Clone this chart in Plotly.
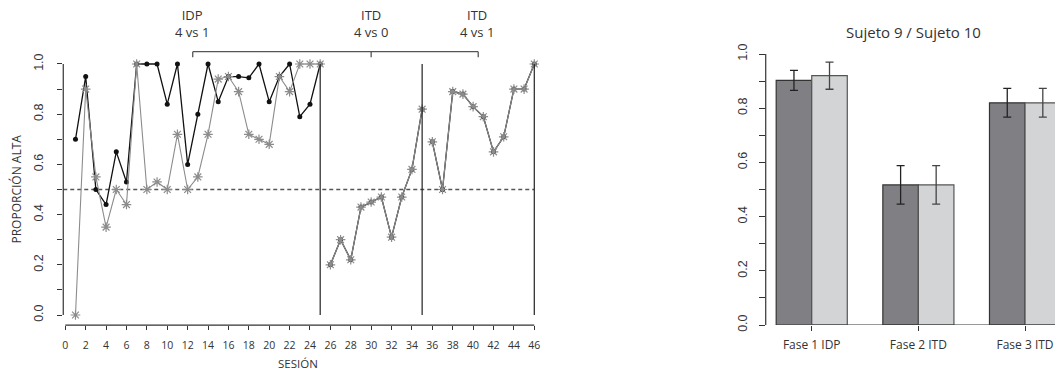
import plotly.graph_objects as go

# ---------------- data ----------------
sesiones = list(range(1, 47))
sujeto9 = [0.70, 0.95, 0.50, 0.44, 0.65, 0.53, 1.00, 1.00, 1.00, 0.84,
           1.00, 0.60, 0.80, 1.00, 0.85, 0.95, 0.95, 0.945, 1.00, 0.85,
           0.95, 1.00, 0.79, 0.84, 1.00,
           0.20, 0.30, 0.22, 0.43, 0.45, 0.47, 0.31, 0.47, 0.58, 0.82,
           0.69, 0.50, 0.89, 0.88, 0.83, 0.79, 0.65, 0.71, 0.90, 0.90, 1.00]
sujeto10 = [0.00, 0.90, 0.55, 0.35, 0.50, 0.44, 1.00, 0.50, 0.53, 0.50,
            0.72, 0.50, 0.55, 0.72, 0.94, 0.95, 0.89, 0.72, 0.70, 0.68,
            0.95, 0.89, 1.00, 1.00, 1.00,
            0.20, 0.30, 0.22, 0.43, 0.45, 0.47, 0.31, 0.47, 0.58, 0.82,
            0.69, 0.50, 0.89, 0.88, 0.83, 0.79, 0.65, 0.71, 0.90, 0.90, 1.00]
fin_fase = [25, 35, 46]
fase_labels = ["IDP<br>4 vs 1", "ITD<br>4 vs 0", "ITD<br>4 vs 1"]
fase_label_x = [12.4, 30, 40.4]
bracket = [12.5, 30, 40.5]

fases = ["Fase 1 IDP", "Fase 2 ITD", "Fase 3 ITD"]
media9 = [0.903, 0.517, 0.820]
err9 = [0.037, 0.071, 0.053]
media10 = [0.920, 0.517, 0.820]
err10 = [0.050, 0.071, 0.053]

FONT = "Open Sans"
NUMFONT = "Liberation Sans"
GRAY = "#8c8c8c"
DARK = "#222222"

fig = go.Figure()

# ---------------- left: line chart by phase ----------------
start = 0
for end in fin_fase:
    xs = sesiones[start:end]
    fig.add_trace(go.Scatter(
        x=xs, y=sujeto9[start:end], mode="lines+markers",
        line=dict(color="#111111", width=1.3),
        marker=dict(symbol="circle", size=5, color="#111111"),
        xaxis="x", yaxis="y", showlegend=False, hoverinfo="skip"))
    fig.add_trace(go.Scatter(
        x=xs, y=sujeto10[start:end], mode="lines+markers",
        line=dict(color=GRAY, width=1.1),
        marker=dict(symbol="asterisk-open", size=8, color=GRAY,
                    line=dict(color=GRAY, width=1.2)),
        xaxis="x", yaxis="y", showlegend=False, hoverinfo="skip"))
    start = end

shapes = []
shapes.append(dict(type="line", xref="x", yref="y", x0=-0.2, x1=46, y0=0.5, y1=0.5,
                   line=dict(color="#555555", width=1.3, dash="4px,3px"), layer="below"))
for e in fin_fase:
    shapes.append(dict(type="line", xref="x", yref="y", x0=e, x1=e, y0=0, y1=1,
                       line=dict(color=DARK, width=1.2)))
shapes.append(dict(type="line", xref="x", yref="y", x0=bracket[0], x1=bracket[-1],
                   y0=1.049, y1=1.049, line=dict(color="#555555", width=1.3)))
for bx in bracket:
    shapes.append(dict(type="line", xref="x", yref="y", x0=bx, x1=bx,
                       y0=1.049, y1=1.027, line=dict(color="#555555", width=1.3)))
shapes.append(dict(type="line", xref="x", yref="paper", x0=0, x1=46,
                   y0=0.1215, y1=0.1215, line=dict(color="#333333", width=1.2)))
shapes.append(dict(type="line", xref="paper", yref="y", x0=0.05996, x1=0.05996,
                   y0=0, y1=1, line=dict(color="#333333", width=1.2)))

# ---------------- right: bar chart ----------------
fig.add_trace(go.Bar(
    x=fases, y=media9, name="Sujeto 9",
    marker=dict(color="#808084", line=dict(color="#333333", width=1.2)),
    error_y=dict(type="data", array=err9, color="#222222", thickness=1.3, width=4),
    xaxis="x2", yaxis="y2", showlegend=False, hoverinfo="skip"))
fig.add_trace(go.Bar(
    x=fases, y=media10, name="Sujeto 10",
    marker=dict(color="#d3d4d5", line=dict(color="#555555", width=1.2)),
    error_y=dict(type="data", array=err10, color="#444444", thickness=1.3, width=4),
    xaxis="x2", yaxis="y2", showlegend=False, hoverinfo="skip"))

shapes.append(dict(type="line", xref="x2", yref="y2", x0=0, x1=2.3, y0=0, y1=0,
                   line=dict(color="#333333", width=1.2)))
shapes.append(dict(type="line", xref="paper", yref="y2", x0=0.7258, x1=0.7258,
                   y0=0, y1=1, line=dict(color="#333333", width=1.2)))

annotations = []
for lab, lx in zip(fase_labels, fase_label_x):
    annotations.append(dict(text=lab, x=lx, y=(370 - 23) / 370, xref="x", yref="paper",
                            showarrow=False, font=dict(family=FONT, size=13, color="#333333"),
                            xanchor="center", yanchor="middle"))
annotations.append(dict(text="SESIÓN", x=0.2825, y=(370 - 363) / 370, xref="paper", yref="paper",
                        showarrow=False, font=dict(family=FONT, size=11.5, color="#333333"),
                        xanchor="center", yanchor="middle"))
annotations.append(dict(text="PROPORCIÓN ALTA", x=16/1055, y=(370-189.5)/370,
                        xref="paper", yref="paper", textangle=-90, showarrow=False,
                        font=dict(family=FONT, size=12, color="#333333"),
                        xanchor="center", yanchor="middle"))
annotations.append(dict(text="Sujeto 9 / Sujeto 10", x=913.3/1055, y=(370-32.3)/370,
                        xref="paper", yref="paper", showarrow=False,
                        font=dict(family=FONT, size=15, color="#333333"),
                        xanchor="center", yanchor="middle"))

fig.update_layout(
    width=1055, height=370,
    margin=dict(l=0, r=0, t=0, b=0, autoexpand=False),
    paper_bgcolor="white", plot_bgcolor="white",
    barmode="group", bargap=1/3, bargroupgap=0,
    shapes=shapes, annotations=annotations,
    xaxis=dict(domain=[0.05996, 0.5161], range=[-0.2, 47], automargin=False,
               tickvals=list(range(0, 47, 2)), ticks="outside", ticklen=4,
               tickcolor="#333333", tickwidth=1.2, showgrid=False, zeroline=False,
               showline=False, tickfont=dict(family=FONT, size=10.5, color="#333333"),
               ticklabelstandoff=6),
    yaxis=dict(domain=[0.1215, 0.8813], range=[-0.04, 1.08], automargin=False,
               tickvals=[0, 0.2, 0.4, 0.6, 0.8, 1.0], ticktext=["0.0", "0.2", "0.4", "0.6", "0.8", "1.0"],
               ticks="outside", ticklen=5, tickcolor="#333333", tickwidth=1.2,
               minor=dict(tickvals=[0.1, 0.3, 0.5, 0.7, 0.9], ticks="outside", ticklen=5,
                          tickcolor="#333333", tickwidth=1.2, showgrid=False),
               tickangle=-90, showgrid=False, zeroline=False, showline=False,
               tickfont=dict(family=NUMFONT, size=12.5, color="#333333"),
               ticklabelstandoff=9),
    xaxis2=dict(domain=[0.7258, 1.0], range=[-0.4315, 2.281], type="category",
                automargin=False, anchor="y2",
                ticks="outside", ticklen=5, tickcolor="#333333", tickwidth=1.2,
                showgrid=False, zeroline=False, showline=False,
                tickfont=dict(family=FONT, size=12, color="#333333"),
                ticklabelstandoff=4),
    yaxis2=dict(domain=[0.1216, 0.854], range=[0, 1], anchor="x2", automargin=False,
                tickvals=[0, 0.2, 0.4, 0.6, 0.8, 1.0], ticktext=["0.0", "0.2", "0.4", "0.6", "0.8", "1.0"],
                ticks="outside", ticklen=6, tickcolor="#333333", tickwidth=1.2,
                minor=dict(tickvals=[0.1, 0.3, 0.5, 0.7, 0.9], ticks="outside", ticklen=6,
                           tickcolor="#333333", tickwidth=1.2, showgrid=False),
                tickangle=-90, showgrid=False, zeroline=False, showline=False,
                tickfont=dict(family=NUMFONT, size=12.5, color="#333333"),
                ticklabelstandoff=7),
)

fig.write_html("out.html", config={"displayModeBar": False},
               post_script="document.body.style.margin='0';document.body.style.padding='0';")
